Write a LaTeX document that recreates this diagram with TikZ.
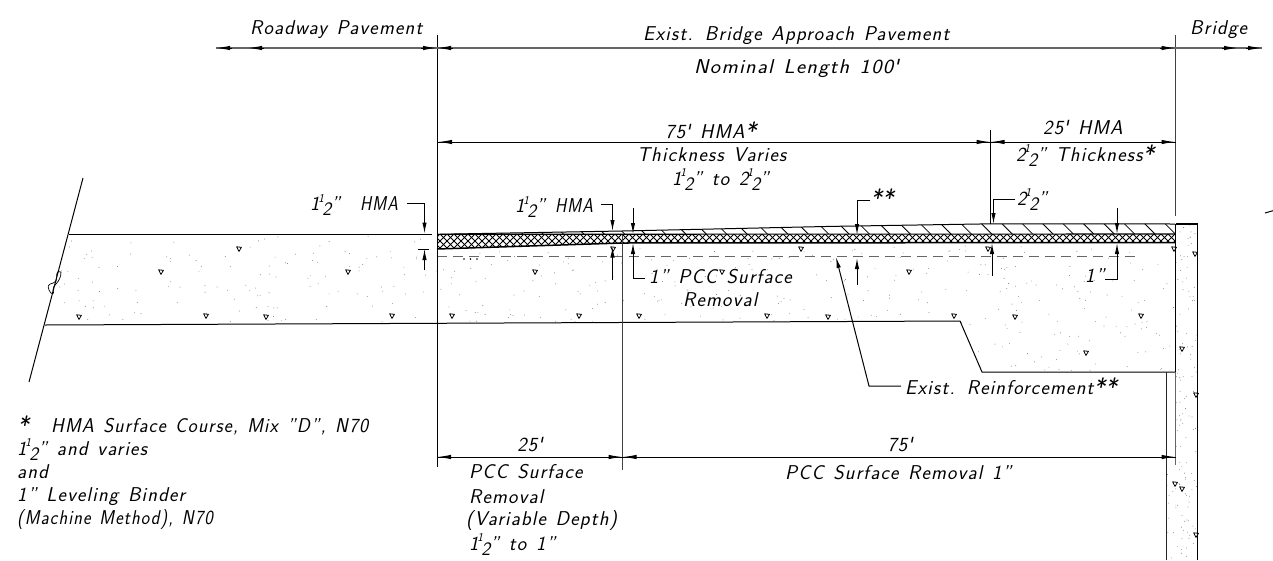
\documentclass[tikz,border=0pt]{standalone}
\usepackage{fontspec}
\usepackage{graphicx}
\usetikzlibrary{arrows.meta}
\setsansfont[LetterSpace=6,WordSpace=1.3]{Latin Modern Sans}
\newcommand\lbf{\fontsize{20}{23}\selectfont\sffamily\itshape}
\newcommand\hlf[1]{#1\kern-.06em\smash{\raisebox{.42em}{\scalebox{.6}{1}}}\kern-.08em\smash{\raisebox{-.25em}{\scalebox{.95}{2}}}}
\newcommand\fts{\textquotesingle}
\newcommand\stx{\smash{\raisebox{-.12em}{\scalebox{1.25}{*}}}}
\tikzset{
 x=1pt,y=-1pt,
 lbl/.style={font=\lbf,inner sep=0pt,anchor=base west},
 lblc/.style={font=\lbf,inner sep=0pt,anchor=base},
 thin line/.style={line width=1pt,black},
 grayline/.style={line width=1.4pt,black!60},
 tip/.style={-{Latex[length=14pt,width=4.4pt]},line width=1pt,black},
 vtip/.style={-{Latex[length=11pt,width=4.4pt]},line width=1pt,black},
 aggr/.style={line width=.8pt,black,line join=round},
 speck/.style={fill=black!55,draw=none},
}
\newcommand\agg[2]{\draw[aggr] (#1-2.4,#2-2.2) -- (#1+2.4,#2-1.7) -- (#1,#2+2.4) -- cycle;}
\begin{document}
\begin{tikzpicture}
\useasboundingbox (0,0) rectangle (1273,560);
% stipple
\pgfmathsetseed{4217}
\begin{scope}
\clip (69,236) -- (437,236) -- (437,250) -- (1175,244) -- (1175,371) -- (982,371) -- (960,321) -- (47,324) -- cycle;
\foreach \i in {1,...,620}{
 \pgfmathsetmacro\px{47+rnd*1128}
 \pgfmathsetmacro\py{236+rnd*135}
 \fill[speck] (\px,\py) circle (.45);
}
\end{scope}
\begin{scope}
\clip (1176,225) rectangle (1197,560);
\foreach \i in {1,...,110}{
 \pgfmathsetmacro\py{225+rnd*335}
 \pgfmathsetmacro\px{1176+rnd*21}
 \fill[speck] (\px,\py) circle (.45);
}
\end{scope}
\begin{scope}
\clip (1167,465) rectangle (1176,560);
\foreach \i in {1,...,12}{
 \pgfmathsetmacro\py{465+rnd*95}
 \pgfmathsetmacro\px{1167+rnd*9}
 \fill[speck] (\px,\py) circle (.45);
}
\end{scope}
% aggregate triangles
\foreach \a/\b in {79/317,206/316,266/317,392/316,161/272,348/272,239/249,452/316,579/316,639/316,535/272,613/249,722/272,767/316,828/317,954/316,801/249,909/272,988/249,1015/317,1141/316,1086/353,1174/249,1195/254,1182/349,1196/395,1175/484,1182/489,1196/535}{\agg{\a}{\b}}
% layers
\begin{scope}
\clip (437,234.3) -- (622,234) -- (1175,234) -- (1175,242.5) -- (622,243) -- (437,249) -- cycle;
\foreach \k in {0,...,112}{
 \draw[line width=.85pt] (420+\k*7,228) -- ++(26,26);
 \draw[line width=.85pt] (446+\k*7,228) -- ++(-26,26);
}
\end{scope}
\begin{scope}
\clip (437,234.3) -- (622,231) -- (700,229.3) -- (830,226.4) -- (992,223.8) -- (1175,224) -- (1175,234) -- cycle;
\foreach \k in {0,...,36}{
 \draw[line width=.8pt] (429+\k*20.4,222) -- ++(14,14);
}
\end{scope}
\coordinate (surfL) at (437,234.3);
\coordinate (surfE) at (1175,224);
\draw[thin line] (surfL) -- (622,231) -- (700,229.3) -- (830,226.4) -- (992,223.8) -- (surfE);
\draw[line width=1.1pt] (437,234.3) -- (1175,234);
\draw[line width=1.5pt] (437,249) -- (622,243) -- (1175,242.5);
\draw[black!60,line width=1.5pt,dash pattern=on 10pt off 6pt] (437,256.7) -- (1137,256.7);
\foreach \a in {464,470.5,477}{\fill (\a,259) circle (.9);}
% left slab
\draw[thin line] (69,234.5) -- (432,234.5);
\draw[thin line] (45,325) -- (960,321) -- (982,372) -- (1175.5,372);
\draw[thin line] (83,178) -- (29,382);
\draw[line width=.7pt] (61,272) .. controls (54,270) and (58,278) .. (56,281) .. controls (53,285) and (46,282) .. (49,290) .. controls (51,295) and (55,295) .. (53,290) .. controls (52,285) and (61,283) .. (61,272);
% wall
\draw[line width=1.5pt] (1175.5,224) -- (1197.5,224) -- (1197.5,560);
\draw[line width=1.1pt] (1175.5,224) -- (1175.5,372);
\draw[black!60,line width=1.1pt] (1175.5,372) -- (1175.5,465);
\draw[black!85,line width=.9pt] (1166,372) -- (1166,560);
% extension lines
\draw[line width=1pt] (437,35) -- (437,467);
\draw[black!75,line width=1pt] (622.5,235) -- (622.5,470);
\draw[black!75,line width=1pt] (1175.5,35) -- (1175.5,216);
\draw[line width=1pt] (990.5,130) -- (990.5,224);
% top dimension
\coordinate (tA) at (216,48); \coordinate (tB) at (248,48); \coordinate (tC) at (437,48);
\coordinate (tD) at (1175.5,48); \coordinate (tE) at (1238,48); \coordinate (tF) at (1262,48);
\draw[grayline] (tA) -- (tF);
\draw[tip] (232,48) -- (tA);
\draw[tip] (264,48) -- (tB);
\draw[tip] (421,48) -- (tC);
\draw[tip] (453,48) -- (tC);
\draw[tip] (1160,48) -- (tD);
\draw[tip] (1222,48) -- (tE);
\draw[tip] (1246,48) -- (tF);
% 75 / 25 dimension
\coordinate (mA) at (438,142); \coordinate (mB) at (990.5,142); \coordinate (mC) at (1175.5,142);
\draw[thin line] (mA) -- (mC);
\draw[tip] (454,142) -- (mA);
\draw[tip] (975,142) -- (mB);
\draw[tip] (1006,142) -- (mB);
\draw[tip] (1160,142) -- (mC);
% bottom dimension
\coordinate (bA) at (437,457); \coordinate (bB) at (622.5,457); \coordinate (bC) at (1175.5,457);
\draw[thin line] (bA) -- (bC);
\draw[tip] (453,457) -- (bA);
\draw[tip] (607,457) -- (bB);
\draw[tip] (638,457) -- (bB);
\draw[tip] (1160,457) -- (bC);
% leader dims
\draw[vtip] (407,203) -- (424.5,203) -- (424.5,233.5);
\draw[vtip] (424.5,270) -- (424.5,249);
\draw[thin line] (418,249) -- (429,249);
\draw[thin line] (424,234.5) -- (432,234.5);
\draw[vtip] (601,204) -- (612.5,204) -- (612.5,231);
\draw[vtip] (612.5,280) -- (612.5,246.5);
\draw[vtip] (633,208) -- (633,234);
\draw[vtip] (645,278) -- (633,278) -- (633,243);
\draw[vtip] (870,200) -- (857,200) -- (857,235);
\draw[vtip] (857,285) -- (857,258);
\draw[vtip] (1015,199) -- (993.5,199) -- (993.5,224);
\draw[vtip] (992,276) -- (992,243);
\draw[vtip] (1117,208) -- (1117,234);
\draw[vtip] (1105,279) -- (1117,279) -- (1117,243);
\draw[vtip] (901,386) -- (869,386) -- (836,257);
\draw[thin line] (1265,213) -- (1273,210.7);
% texts
\node[lbl] (t1) at (250,34) {Roadway Pavement};
\node[lbl] (t2) at (643,40) {Exist. Bridge Approach Pavement};
\node[lbl] (t3) at (1190,34) {Bridge};
\node[lbl] (t4) at (694,73) {\scalebox{1.09}[1]{Nominal Length 100\fts}};
\node[lbl] (t5) at (665,138) {75\fts\ HMA\stx};
\node[lbl] (t6) at (637,161) {Thickness Varies};
\node[lbl] (t7) at (672,185) {\hlf{1}" to \hlf{2}"};
\node[lbl] (t8) at (1043,134) {25\fts\ HMA};
\node[lbl] (t9) at (1016,161) {\hlf{2}" Thickness\stx};
\node[lbl] (t10) at (310,210.7) {\makebox[50pt][l]{\hlf{1}"}\scalebox{.85}[1]{HMA}};
\node[lbl] (t11) at (515,212.7) {\makebox[40pt][l]{\hlf{1}"}\scalebox{.85}[1]{HMA}};
\node[lbl] (t12) at (1017,205) {\hlf{2}"};
\node[lbl] (t13) at (649,283) {1" PCC Surface};
\node[lbl] (t14) at (683,306) {Removal};
\node[lbl] (t15) at (1085,282) {1"};
\node[lbl] (t16) at (870,205) {\stx\stx};
\node[lbl] (t17) at (905,394) {Exist. Reinforcement\stx\stx};
\node[lblc] (t18) at (530,451) {25\fts};
\node[lblc] (t19) at (900,451) {75\fts};
\node[lbl] (t20) at (469,478) {PCC Surface};
\node[lbl] (t21) at (469,503) {Removal};
\node[lbl] (t22) at (466,525) {(Variable Depth)};
\node[lbl] (t23) at (469,550) {\hlf{1}" to 1"};
\node[lbl] (t24) at (785,479) {PCC Surface Removal 1"};
\node[lbl] (t25) at (17,432) {\makebox[34pt][l]{\stx}\scalebox{.96}[1]{HMA Surface Course, Mix "D", N70}};
\node[lbl] (t26) at (17,455) {\hlf{1}" and varies};
\node[lbl] (t27) at (17,478) {and};
\node[lbl] (t28) at (17,501.5) {1" Leveling Binder};
\node[lbl] (t29) at (17,524) {\scalebox{.9}[1]{(Machine Method), N70}};
\end{tikzpicture}
\end{document}
